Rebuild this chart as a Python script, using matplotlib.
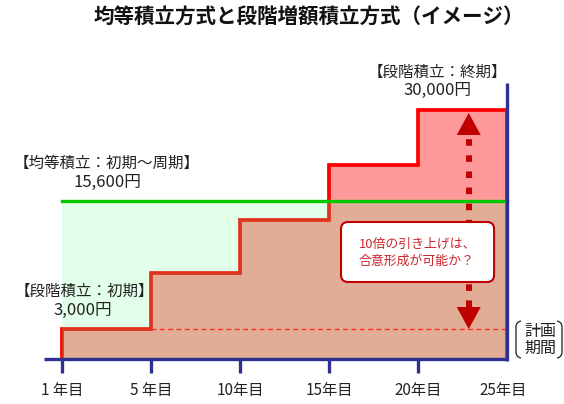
import matplotlib
matplotlib.use("Agg")
import matplotlib.pyplot as plt
from matplotlib.patches import FancyBboxPatch, Polygon, PathPatch
from matplotlib.path import Path
import numpy as np

plt.rcParams['font.family'] = ['Noto Sans CJK JP', 'DejaVu Sans']

# ---- data (schematic image chart) ----
title = "均等積立方式と段階増額積立方式（イメージ）"
periods = ["1 年目", "5 年目", "10年目", "15年目", "20年目", "25年目"]
step_levels = [30, 86, 139, 194, 249]   # schematic heights of the stepped plan
equal_level = 158                       # schematic height of the equal plan
label_equal = ["【均等積立：初期～周期】", "15,600円"]
label_step_first = ["【段階積立：初期】", "3,000円"]
label_step_last = ["【段階積立：終期】", "30,000円"]
callout_text = "10倍の引き上げは、\n合意形成が可能か？"
period_text = "計画\n期間"

W, H = 564, 404
fig = plt.figure(figsize=(W / 100, H / 100), dpi=100)
ax = fig.add_axes([0, 0, 1, 1])
x0px, unit, base = 62, 89, 359
ax.set_xlim(-x0px / unit, (W - x0px) / unit)
ax.set_ylim(base - H, base)
ax.axis('off')


def ftxt(px, py, s, **kw):
    fig.text(px / W, 1 - py / H, s, **kw)


edges = np.arange(len(periods))

# stepped plan
ax.stairs(step_levels, edges, baseline=0, fill=True, color='#FF9999', lw=0, zorder=1)
sp = ax.stairs(step_levels, edges, baseline=0, fill=False, color='#FF0000', lw=2.7, zorder=2)
sp.set_joinstyle('miter')
# equal plan overlay
ax.fill_between([edges[0], edges[-1]], 0, equal_level, color=(0.41, 1.0, 0.57),
                alpha=0.2, lw=0, zorder=3)
# dashed reference at the initial stepped level
ax.plot([edges[1], edges[-1]], [step_levels[0]] * 2, color='#FF2A2A', lw=1.0,
        ls=(0, (3.5, 2.5)), zorder=4)
ax.plot([edges[0], edges[-1]], [equal_level] * 2, color='#00C800', lw=2.4, zorder=5)

# arrow (double, dotted shaft)
arx = 4.57
dark = '#C00000'
head_h, head_w = 22, 0.135
top = step_levels[-1] - 3
bot = step_levels[0]
ax.plot([arx, arx], [bot + head_h, top - head_h], color=dark, lw=4.3,
        ls=(0, (1.1, 1.6)), solid_capstyle='butt', dash_capstyle='butt', zorder=6)
ax.add_patch(Polygon([[arx - head_w, top - head_h], [arx + head_w, top - head_h], [arx, top]],
                     closed=True, color=dark, lw=0, zorder=6))
ax.add_patch(Polygon([[arx - head_w, bot + head_h], [arx + head_w, bot + head_h], [arx, bot]],
                     closed=True, color=dark, lw=0, zorder=6))

# callout
box = FancyBboxPatch((3.135, 77), 1.72, 60, boxstyle='round,pad=0,rounding_size=0.08',
                     mutation_aspect=unit, facecolor='white', edgecolor=dark, lw=1.5, zorder=7)
ax.add_patch(box)
ax.text(3.33, 106, callout_text, ha='left', va='center', fontsize=9.3,
        color='#C8282D', linespacing=1.4, zorder=8)

# axes (navy)
navy = '#2E3192'
ax.plot([-0.2, edges[-1]], [0, 0], color=navy, lw=2.4, solid_capstyle='butt', zorder=9)
ax.plot([edges[-1]] * 2, [-2, step_levels[-1] + 27], color=navy, lw=2.4,
        solid_capstyle='butt', zorder=9)
for e in edges[:-1]:
    ax.plot([e, e], [0, -14], color=navy, lw=2.4, solid_capstyle='butt', zorder=9)
for e, lab in zip(edges, periods):
    ax.text(e - (0.04 if e == edges[-1] else 0), -32, lab, ha='center', va='center',
            fontsize=11, color='#222222')

# labels
tc = '#222222'
ftxt(309, 17, title, ha='center', va='center', fontsize=14.8, fontweight='bold', color='#111111')
ftxt(107, 163, label_equal[0], ha='center', va='center', fontsize=11.2, color=tc)
ftxt(107, 182, label_equal[1], ha='center', va='center', fontsize=12, color=tc)
ftxt(84, 291, label_step_first[0], ha='center', va='center', fontsize=11.2, color=tc)
ftxt(83, 310, label_step_first[1], ha='center', va='center', fontsize=12, color=tc)
ftxt(437, 72, label_step_last[0], ha='center', va='center', fontsize=11.2, color=tc)
ftxt(437, 90, label_step_last[1], ha='center', va='center', fontsize=12, color=tc)
ftxt(540, 340, period_text, ha='center', va='center', fontsize=11.5, color=tc, linespacing=1.05)


# brackets around 計画期間
def fp(px, py):
    return (px / W, 1 - py / H)


def bracket(xo, xi, y1, y2):
    verts = [fp(xi, y1), fp(xo, y1 + 1), fp(xo, y1 + 6), fp(xo, y2 - 6), fp(xo, y2 - 1), fp(xi, y2)]
    codes = [Path.MOVETO, Path.CURVE3, Path.CURVE3, Path.LINETO, Path.CURVE3, Path.CURVE3]
    fig.patches.append(PathPatch(Path(verts, codes), fill=False, edgecolor='#333333', lw=1.0,
                                 transform=fig.transFigure))


bracket(516, 521, 321, 358)
bracket(562, 557, 321, 358)

fig.savefig('out.png', dpi=100)
